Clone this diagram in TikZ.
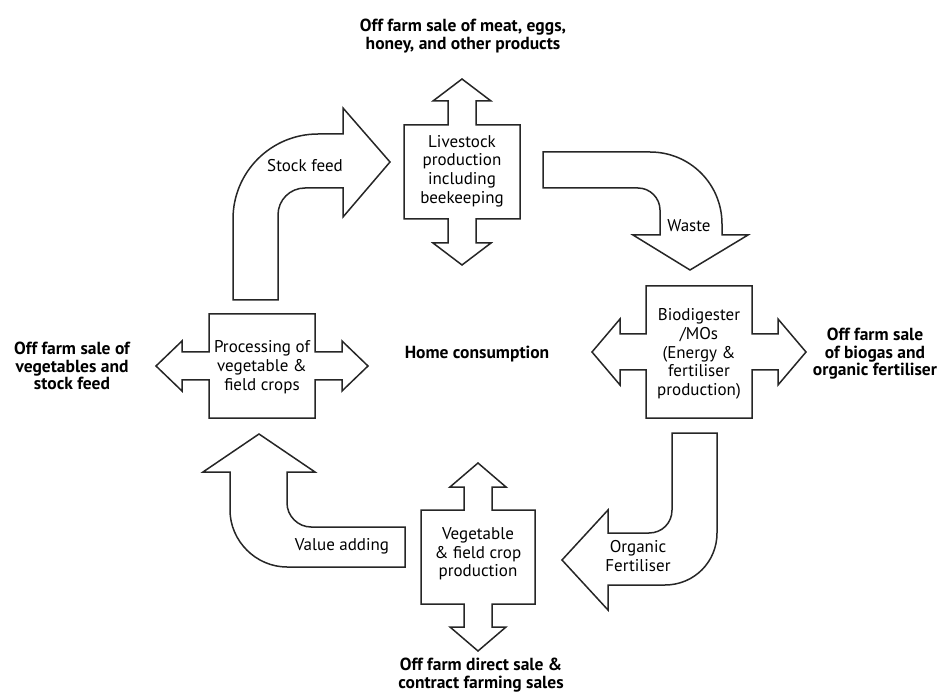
\documentclass[tikz,border=0pt]{standalone}
\usepackage{fontspec}
\setmainfont{PT Sans}
\usetikzlibrary{positioning}

\tikzset{
  flow/.style={draw=black!85, line width=1.5pt, line join=miter, fill=white},
  boxtext/.style={align=center, inner sep=0pt, font=\fontsize{17}{18.7}\selectfont},
  offtext/.style={align=center, inner sep=0pt, font=\bfseries\fontsize{17.5}{17.5}\selectfont},
}

% box with an arrow out of its top and bottom
% #1 centre, #2 half width, #3 half height, #4 half shaft, #5 half head, #6 shaft, #7 head
\newcommand\udcross[7]{%
  \draw[flow] (#1) +(-#2,-#3) -- +(-#4,-#3) -- +(-#4,-#3-#6) -- +(-#5,-#3-#6)
    -- +(0,-#3-#6-#7) -- +(#5,-#3-#6) -- +(#4,-#3-#6) -- +(#4,-#3)
    -- +(#2,-#3) -- +(#2,#3) -- +(#4,#3) -- +(#4,#3+#6) -- +(#5,#3+#6)
    -- +(0,#3+#6+#7) -- +(-#5,#3+#6) -- +(-#4,#3+#6) -- +(-#4,#3)
    -- +(-#2,#3) -- cycle;}
% box with an arrow out of its left and right side
\newcommand\lrcross[7]{%
  \draw[flow] (#1) +(-#2,-#3) -- +(#2,-#3) -- +(#2,-#4) -- +(#2+#6,-#4)
    -- +(#2+#6,-#5) -- +(#2+#6+#7,0) -- +(#2+#6,#5) -- +(#2+#6,#4)
    -- +(#2,#4) -- +(#2,#3) -- +(-#2,#3) -- +(-#2,#4) -- +(-#2-#6,#4)
    -- +(-#2-#6,#5) -- +(-#2-#6-#7,0) -- +(-#2-#6,-#5) -- +(-#2-#6,-#4)
    -- +(-#2,-#4) -- cycle;}

\begin{document}
\begin{tikzpicture}[x=1pt,y=-1pt]
\useasboundingbox (0,0) rectangle (945,692);

% centres of the four stages
\coordinate (lvc) at (462,172);
\coordinate (bdc) at (699,352);
\coordinate (vgc) at (478,557);
\coordinate (prc) at (262,366);

\udcross{lvc}{58}{47}{14}{29}{24}{22}
\lrcross{bdc}{53}{66}{18}{33}{26}{28}
\udcross{vgc}{57}{47}{14}{28}{23}{24}
\lrcross{prc}{53}{52}{14}{25}{27}{26}

% stock feed
\draw[flow] (233,300) -- (233,219) .. controls (233,172) and (271,134) .. (318,134)
  -- (343,134) -- (343,108) -- (390,162) -- (343,217) -- (343,188) -- (305,188)
  .. controls (290,188) and (278,200) .. (278,215) -- (278,300) -- cycle;
% waste
\draw[flow] (543,152) -- (650,152) .. controls (690,152) and (722,184) .. (722,224)
  -- (722,235) -- (748,235) -- (690,270) -- (633,235) -- (660,235) -- (660,210)
  .. controls (660,198) and (650,188) .. (638,188) -- (543,188) -- cycle;
% organic fertiliser
\draw[flow] (672,433) -- (717,433) -- (717,533) .. controls (717,562) and (694,585) .. (665,585)
  -- (608,585) -- (608,610) -- (562,560) -- (608,510) -- (608,533) -- (649,533)
  .. controls (662,533) and (672,523) .. (672,510) -- cycle;
% value adding
\draw[flow] (405,567) -- (287,567) .. controls (256,567) and (230,541) .. (230,510)
  -- (230,472) -- (203,472) -- (259,434) -- (315,472) -- (287,472) -- (287,503)
  .. controls (287,516) and (298,527) .. (311,527) -- (405,527) -- cycle;

\node[boxtext] (lv) at (462,171) {Livestock\\production\\including\\beekeeping};
\node[boxtext] (bd) at (699,354) {Biodigester\\/MOs\\(Energy \&\\fertiliser\\production)};
\node[boxtext] (vg) at (478,554) {Vegetable\\\& field crop\\production};
\node[boxtext] (pr) at (262,367) {Processing of\\vegetable \&\\field crops};

\node[boxtext] (sf) at (305,166) {Stock feed};
\node[boxtext] (ws) at (689,226) {Waste};
\node[boxtext] (of) at (638,556) {Organic\\Fertiliser};
\node[boxtext] (va) at (342,546) {Value adding};

\node[offtext] (top) at (463,36) {Off farm sale of meat, eggs,\\honey, and other products};
\node[offtext] (left) at (72,366) {Off farm sale of\\vegetables and\\stock feed};
\node[offtext] (right) at (875,354) {Off farm sale\\of biogas and\\organic fertiliser};
\node[offtext] (bottom) at (481,675) {Off farm direct sale \&\\contract farming sales};
\node[offtext] (home) at (477,354) {Home consumption};
\end{tikzpicture}
\end{document}
